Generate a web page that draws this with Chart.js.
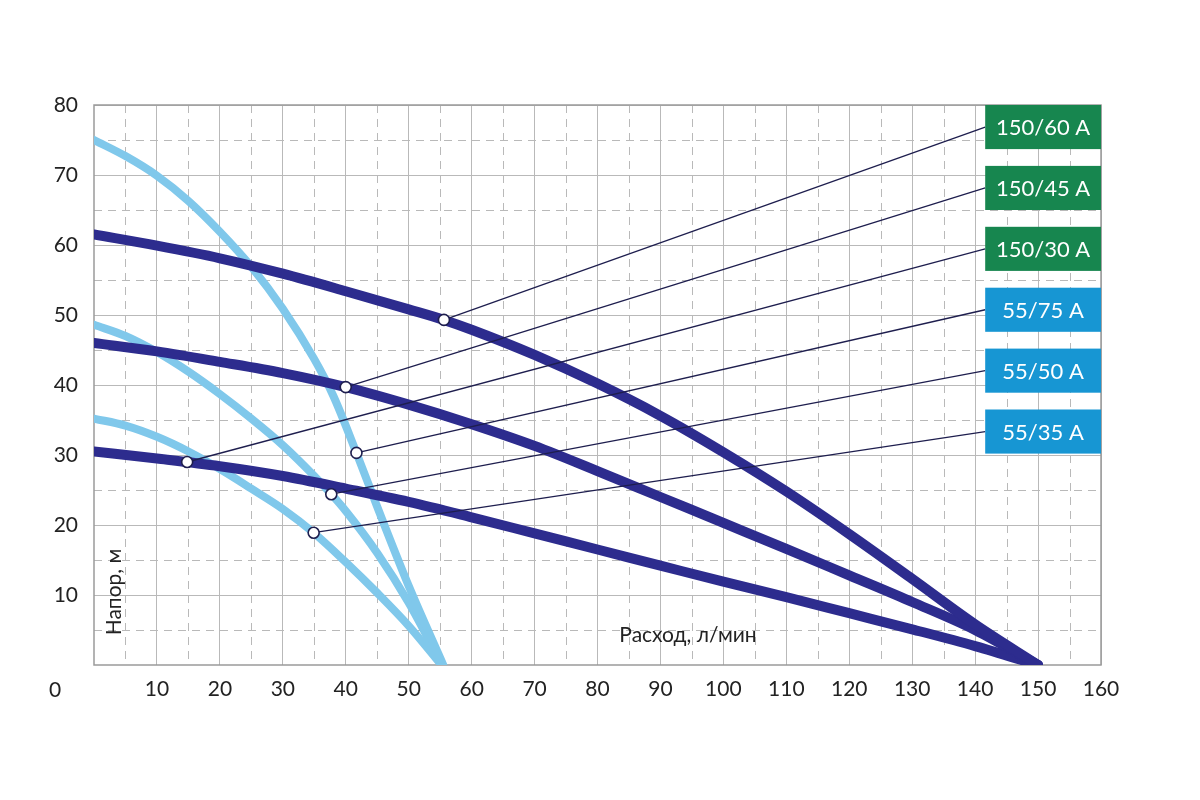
<!DOCTYPE html>
<html>
<head>
<meta charset="utf-8">
<script src="https://cdn.jsdelivr.net/npm/chart.js@4.4.1/dist/chart.umd.min.js"></script>
<style>
  html, body { margin: 0; padding: 0; background: #fff; }
</style>
</head>
<body>
<canvas id="pumps" width="1200" height="800"></canvas>
<script>
// кривые насосов: расход (л/мин) и напор (м)
const pumpNames = ["150/60 A", "150/45 A", "150/30 A", "55/75 A", "55/50 A", "55/35 A"];

const q150_60 = [0, 10, 20, 30, 40, 50, 55.6, 60, 70, 80, 90, 100, 110, 120, 130, 140, 150];
const h150_60 = [61.5, 59.9, 58.1, 55.9, 53.4, 50.8, 49.3, 47.9, 44.3, 40.2, 35.6, 30.4, 24.8, 18.7, 12.3, 5.8, 0];

const q150_45 = [0, 10, 20, 30, 40, 50, 60, 70, 80, 90, 100, 110, 120, 130, 140, 150];
const h150_45 = [46, 44.8, 43.3, 41.7, 39.7, 37.2, 34.4, 31.3, 27.7, 24.0, 20.3, 16.6, 12.8, 9.0, 5.0, 0];

const q150_30 = [0, 10, 20, 30, 40, 50, 60, 70, 80, 90, 100, 110, 120, 130, 140, 150];
const h150_30 = [30.5, 29.5, 28.4, 27.0, 25.2, 23.3, 21.1, 18.8, 16.5, 14.2, 11.9, 9.7, 7.4, 5.1, 2.7, 0];

const q55_75 = [0, 5, 10, 15, 20, 25, 30, 35, 38, 41.7, 45, 50, 55.5];
const h55_75 = [75, 72.7, 69.9, 66.3, 61.9, 56.9, 50.9, 43.7, 38.5, 30.3, 22.6, 11.3, 0];

const q55_50 = [0, 5, 10, 15, 20, 25, 30, 35, 37.7, 40, 45, 50, 55.3];
const h55_50 = [48.6, 47.0, 44.7, 41.9, 38.7, 35.2, 31.4, 27.0, 24.4, 22.0, 16.0, 8.9, 0];

const q55_35 = [0, 5, 10, 15, 20, 25, 30, 34.9, 40, 45, 50, 55.2];
const h55_35 = [35.2, 34.2, 32.6, 30.5, 28.0, 25.2, 22.3, 18.9, 14.7, 10.3, 5.6, 0];

// рабочие точки, от которых идут выноски к подписям
const markerQ = [55.6, 40, 14.8, 41.7, 37.7, 34.9];
const markerH = [49.3, 39.7, 29, 30.3, 24.4, 18.9];

const xTicks = [10, 20, 30, 40, 50, 60, 70, 80, 90, 100, 110, 120, 130, 140, 150, 160];
const yTicks = [10, 20, 30, 40, 50, 60, 70, 80];

const darkBlue = "#2d2c8e";
const lightBlue = "#80c8eb";
const navy = "#1e1e4e";
const tagColors = ["#17864f", "#17864f", "#17864f", "#1796d3", "#1796d3", "#1796d3"];
const FONT = "Lato";

function curve(qs, hs, color, width, order) {
  return {
    type: "line",
    data: qs.map((q, i) => ({ x: q, y: hs[i] })),
    borderColor: color,
    borderWidth: width,
    pointRadius: 0,
    cubicInterpolationMode: "monotone",
    borderCapStyle: "round",
    borderJoinStyle: "round",
    fill: false,
    order: order,
  };
}

const MARKERS = 6;

const dashedGrid = {
  id: "dashedGrid",
  beforeDatasetsDraw(chart) {
    const { ctx, chartArea: a, scales: { x, y } } = chart;
    ctx.save();
    ctx.strokeStyle = "#b9b9b9";
    ctx.lineWidth = 1;
    ctx.setLineDash([8, 6]);
    for (let v = 5; v < 160; v += 10) {
      const px = Math.round(x.getPixelForValue(v)) + 0.5;
      ctx.beginPath(); ctx.moveTo(px, a.top); ctx.lineTo(px, a.bottom); ctx.stroke();
    }
    for (let v = 5; v < 80; v += 10) {
      const py = Math.round(y.getPixelForValue(v)) + 0.5;
      ctx.beginPath(); ctx.moveTo(a.left, py); ctx.lineTo(a.right, py); ctx.stroke();
    }
    ctx.setLineDash([]);
    ctx.strokeStyle = "#9a9a9a";
    ctx.lineWidth = 1.5;
    ctx.strokeRect(a.left, a.top, a.right - a.left, a.bottom - a.top);
    ctx.restore();
  },
};

const tags = {
  id: "tags",
  beforeDatasetDraw(chart, args, opts) {
    if (args.index !== MARKERS) return;
    const { ctx, chartArea: a, scales: { x, y } } = chart;
    const left = x.getPixelForValue(opts.left);
    ctx.save();
    pumpNames.forEach((name, i) => {
      const top = y.getPixelForValue(opts.top - i * opts.step);
      const bottom = y.getPixelForValue(opts.top - i * opts.step - opts.height);
      const mid = (top + bottom) / 2;
      ctx.strokeStyle = navy;
      ctx.lineWidth = 1.3;
      ctx.beginPath();
      ctx.moveTo(x.getPixelForValue(markerQ[i]), y.getPixelForValue(markerH[i]));
      ctx.lineTo(left, mid);
      ctx.stroke();
      ctx.fillStyle = tagColors[i];
      ctx.fillRect(left, top, a.right - left, bottom - top);
      ctx.fillStyle = "#fff";
      ctx.font = "22px " + FONT;
      ctx.textAlign = "center";
      ctx.textBaseline = "middle";
      ctx.fillText(name, (left + a.right) / 2, mid + 1);
    });
    ctx.restore();
  },
};

const titles = {
  id: "titles",
  afterDraw(chart) {
    const { ctx, chartArea: a } = chart;
    ctx.save();
    ctx.fillStyle = "#222";
    ctx.font = "21px " + FONT;
    ctx.textAlign = "center";
    ctx.textBaseline = "middle";
    ctx.fillText("Расход, л/мин", a.left + 594, a.bottom - 30);
    ctx.translate(a.left + 20, a.bottom - 73);
    ctx.rotate(-Math.PI / 2);
    ctx.fillText("Напор, м", 0, 0);
    ctx.restore();
    ctx.save();
    ctx.fillStyle = "#222";
    ctx.font = "21px " + FONT;
    ctx.textAlign = "center";
    ctx.textBaseline = "middle";
    ctx.fillText("0", a.left - 39, a.bottom + 25);
    ctx.restore();
  },
};

const tickFont = { family: FONT, size: 21 };

new Chart(document.getElementById("pumps"), {
  type: "line",
  data: {
    datasets: [
      curve(q150_60, h150_60, darkBlue, 10, 1),
      curve(q150_45, h150_45, darkBlue, 10, 1),
      curve(q150_30, h150_30, darkBlue, 10, 1),
      curve(q55_75, h55_75, lightBlue, 8, 2),
      curve(q55_50, h55_50, lightBlue, 8, 2),
      curve(q55_35, h55_35, lightBlue, 8, 2),
      {
        type: "line",
        data: markerQ.map((q, i) => ({ x: q, y: markerH[i] })),
        showLine: false,
        pointRadius: 5.5,
        pointBackgroundColor: "#fff",
        pointBorderColor: navy,
        pointBorderWidth: 1.6,
        order: 0,
      },
    ],
  },
  options: {
    responsive: false,
    devicePixelRatio: 1,
    animation: false,
    layout: { padding: { top: 105, right: 99, left: 0, bottom: 0 } },
    plugins: {
      legend: { display: false },
      tooltip: { enabled: false },
      tags: { left: 141.6, top: 80, step: 8.7, height: 6.3 },
    },
    scales: {
      x: {
        type: "linear",
        min: 0,
        max: 160,
        afterBuildTicks: (s) => { s.ticks = xTicks.map((v) => ({ value: v })); },
        afterFit: (s) => { s.height = 135; },
        ticks: { color: "#222", font: tickFont, padding: 12, maxRotation: 0, autoSkip: false },
        grid: { color: "#b9b9b9", lineWidth: 1, drawTicks: false },
        border: { display: false },
      },
      y: {
        type: "linear",
        min: 0,
        max: 80,
        afterBuildTicks: (s) => { s.ticks = yTicks.map((v) => ({ value: v })); },
        afterFit: (s) => { s.width = 94; },
        ticks: { color: "#222", font: tickFont, padding: 16 },
        grid: { color: "#b9b9b9", lineWidth: 1, drawTicks: false },
        border: { display: false },
      },
    },
  },
  plugins: [dashedGrid, tags, titles],
});
</script>
</body>
</html>
